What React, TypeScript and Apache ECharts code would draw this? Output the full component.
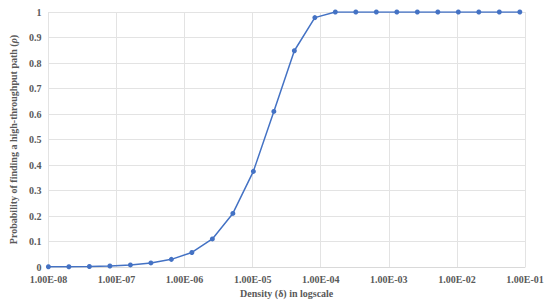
import React, { useEffect, useRef } from "react";
import * as echarts from "echarts";

const exponents: number[] = Array.from({ length: 24 }, (_, k) => k);
const densities: number[] = exponents.map((k) => 1e-8 * Math.pow(2, k));
const probabilities: number[] = [
  0.001, 0.001, 0.002, 0.004, 0.008, 0.016, 0.03, 0.057, 0.11, 0.21, 0.375,
  0.61, 0.848, 0.978, 1, 1, 1, 1, 1, 1, 1, 1, 1, 1,
];
const yTicks: number[] = [0, 0.1, 0.2, 0.3, 0.4, 0.5, 0.6, 0.7, 0.8, 0.9, 1];

const xTitle = "Density (δ) in logscale";
const yTitle = "Probability of finding a high-throughput path ({i|ρ})";

function fmtExp(v: number): string {
  const e = Math.round(Math.log10(v));
  const sign = e < 0 ? "-" : "+";
  const a = Math.abs(e);
  return "1.00E" + sign + (a < 10 ? "0" + a : String(a));
}

export default function App() {
  const ref = useRef<HTMLDivElement>(null);
  useEffect(() => {
    if (!ref.current) return;
    const chart = echarts.init(ref.current, undefined, { renderer: "svg" });
    const font = "'Liberation Serif', 'Times New Roman', serif";
    chart.setOption({
      animation: false,
      backgroundColor: "#ffffff",
      grid: { left: 39, right: 25, top: 12, bottom: 37, containLabel: false },
      xAxis: {
        type: "log",
        logBase: 10,
        min: 1e-8,
        max: 1e-1,
        name: xTitle,
        nameLocation: "middle",
        nameGap: 21,
        nameTextStyle: { fontFamily: font, fontWeight: "bold", fontSize: 10, color: "#595959" },
        axisLine: { show: true, lineStyle: { color: "#d9d9d9", width: 1 } },
        axisTick: { show: false },
        axisLabel: {
          formatter: (v: number) => fmtExp(v),
          fontFamily: font,
          fontWeight: "bold",
          fontSize: 10,
          color: "#595959",
          margin: 7,
        },
        splitLine: { show: true, lineStyle: { color: "#e3e3e3", width: 1 } },
        minorTick: { show: false },
        minorSplitLine: { show: false },
      },
      yAxis: {
        type: "value",
        min: yTicks[0],
        max: yTicks[yTicks.length - 1],
        interval: 0.1,
        name: yTitle,
        nameLocation: "middle",
        nameGap: 27,
        nameTextStyle: {
          fontFamily: font,
          fontWeight: "bold",
          fontSize: 10,
          color: "#595959",
          rich: {
            i: { fontFamily: font, fontStyle: "italic", fontWeight: "bold", fontSize: 10, color: "#595959" },
          },
        },
        axisLine: { show: false },
        axisTick: { show: false },
        axisLabel: {
          formatter: (v: number) => String(Math.round(v * 10) / 10),
          fontFamily: font,
          fontWeight: "bold",
          fontSize: 10,
          color: "#595959",
          margin: 7,
        },
        splitLine: { show: true, lineStyle: { color: "#e3e3e3", width: 1 } },
      },
      series: [
        {
          type: "line",
          data: densities.map((d, i) => [d, probabilities[i]]),
          symbol: "circle",
          symbolSize: 5,
          lineStyle: { color: "#4472C4", width: 1.5 },
          itemStyle: { color: "#4472C4" },
        },
      ],
    });
    return () => chart.dispose();
  }, []);
  return (
    <div
      ref={ref}
      style={{ position: "fixed", left: 0, top: 0, width: 550, height: 304 }}
    />
  );
}
